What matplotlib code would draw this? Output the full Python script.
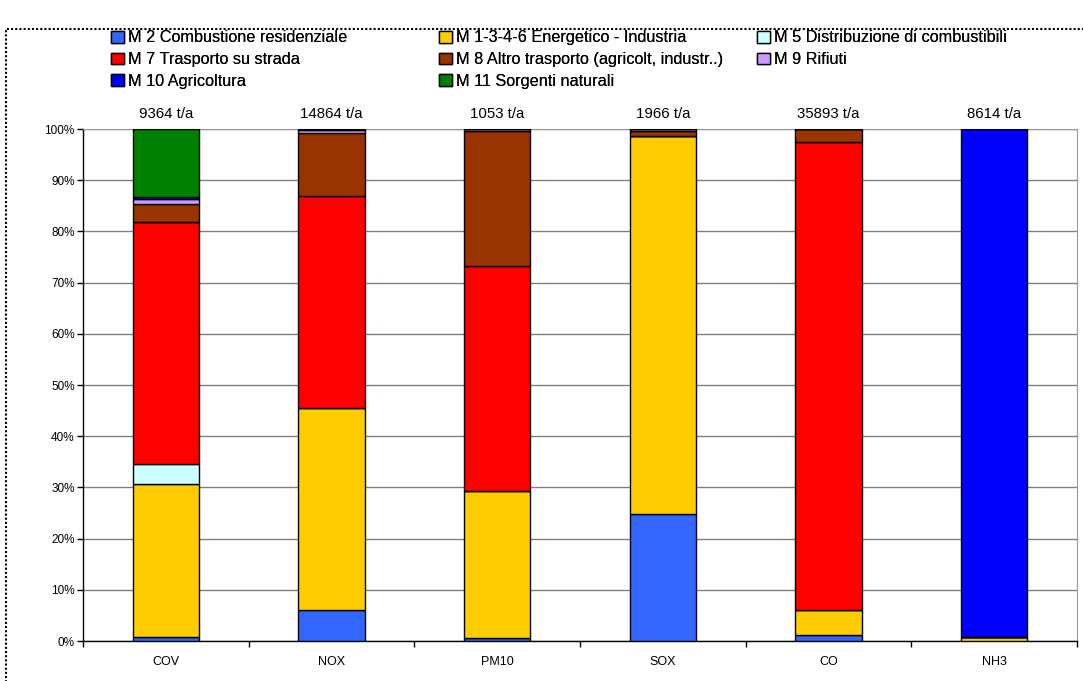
import numpy as np
import matplotlib
matplotlib.use("Agg")
import matplotlib.pyplot as plt
from matplotlib.patches import Patch, Rectangle

plt.rcParams['font.family'] = ['Liberation Sans', 'DejaVu Sans']

inquinanti = ["COV", "NOX", "PM10", "SOX", "CO", "NH3"]
totali = ["9364 t/a", "14864 t/a", "1053 t/a", "1966 t/a", "35893 t/a", "8614 t/a"]

settori = ["M 2 Combustione residenziale", "M 1-3-4-6 Energetico - Industria",
           "M 5 Distribuzione di combustibili", "M 7 Trasporto su strada",
           "M 8 Altro trasporto (agricolt, industr..)", "M 9 Rifiuti",
           "M 10 Agricoltura", "M 11 Sorgenti naturali"]
colori = ["#3366FF", "#FFCC00", "#CCFFFF", "#FF0000", "#993300", "#CC99FF", "#0000FF", "#008000"]

# quote percentuali per settore (stesso ordine di inquinanti)
m2 = [0.8, 6.1, 0.6, 24.8, 1.1, 0.0]
m1346 = [29.9, 39.4, 28.6, 73.8, 5.0, 0.8]
m5 = [3.9, 0.0, 0.0, 0.0, 0.0, 0.0]
m7 = [47.2, 41.4, 44.0, 0.1, 91.3, 0.0]
m8 = [3.5, 12.4, 26.5, 0.9, 2.6, 0.0]
m9 = [1.0, 0.5, 0.3, 0.4, 0.0, 0.0]
m10 = [0.4, 0.2, 0.0, 0.0, 0.0, 99.2]
m11 = [13.3, 0.0, 0.0, 0.0, 0.0, 0.0]
serie = [m2, m1346, m5, m7, m8, m9, m10, m11]

fig = plt.figure(figsize=(10.83, 6.81), dpi=100)
ax = fig.add_axes([83/1083, 1 - 641/681, (1077 - 83)/1083, (641 - 129)/681])

x = np.arange(len(inquinanti))
base = np.zeros(len(inquinanti))
for vals, col, lab in zip(serie, colori, settori):
    v = np.array(vals)
    ax.bar(x, v, 0.4, bottom=base, color=col, edgecolor="black", linewidth=1.0, label=lab, zorder=3)
    base += v

ax.set_xlim(-0.5, 5.5)
ax.set_ylim(0, 100)
ax.set_yticks(np.arange(0, 101, 10))
ax.set_yticklabels([f"{t}%" for t in range(0, 101, 10)], fontsize=8.5)
ax.yaxis.grid(True, color="#808080", linewidth=1.0, zorder=0)
ax.tick_params(axis="y", length=4, width=1, pad=2)

ax.set_xticks(np.arange(-0.5, 6, 1))
ax.set_xticklabels([])
ax.set_xticks(x, minor=True)
ax.set_xticklabels(inquinanti, minor=True, fontsize=9)
ax.tick_params(axis="x", which="major", length=4, width=1)
ax.tick_params(axis="x", which="minor", length=0, pad=11)

ax.spines["top"].set_color("#999999")
ax.spines["right"].set_color("#999999")
ax.spines["left"].set_linewidth(1.0)
ax.spines["bottom"].set_linewidth(1.0)

for xi, t in zip(x, totali):
    ax.text(xi, 103.0, t, ha="center", va="center", fontsize=10.8, clip_on=False)

# legenda su tre colonne
handles = [Patch(facecolor=c, edgecolor="black", linewidth=1.0) for c in colori]
colonne = [[0, 3, 6], [1, 4, 7], [2, 5]]
xcol = [100, 428, 746]
for idx, xc in zip(colonne, xcol):
    leg = fig.legend([handles[i] for i in idx], [settori[i] for i in idx],
                     loc="upper left", bbox_to_anchor=(xc/1083, 1 - 19/681),
                     frameon=False, fontsize=11.7, handlelength=0.75, handleheight=0.75,
                     handletextpad=0.3, labelspacing=0.42, borderpad=0.2)
    fig.add_artist(leg)

# cornice tratteggiata
fig.add_artist(Rectangle((6/1083, -0.05), 1.1, 1 - 29/681 + 0.05, transform=fig.transFigure,
                         fill=False, edgecolor="black", linestyle=(0, (1, 1)), linewidth=1.5))

fig.savefig("out.png", dpi=100)
